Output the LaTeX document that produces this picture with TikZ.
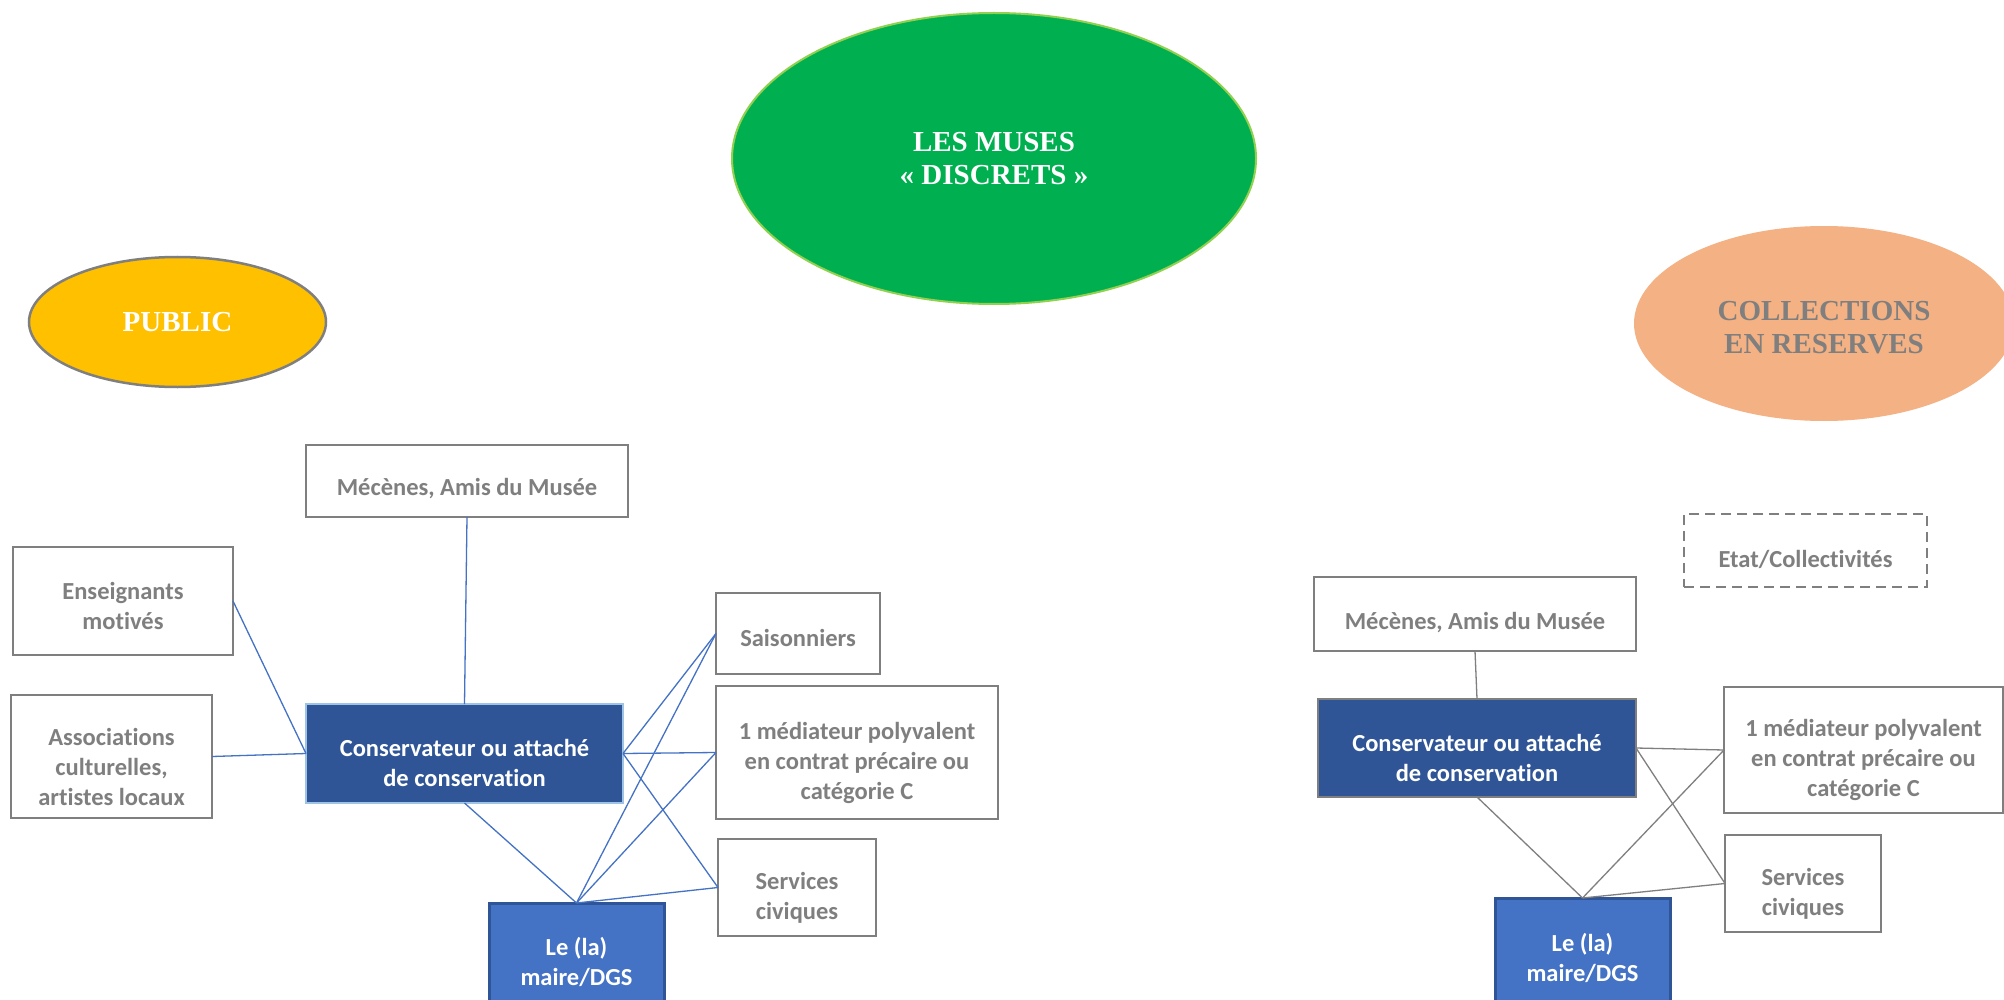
\documentclass[tikz,border=0pt]{standalone}
\usepackage{fontspec}
\usetikzlibrary{shapes.geometric}
\newfontfamily\carlitofont{Carlito}[Ligatures=NoCommon]
\newfontfamily\timesfont{Liberation Serif}

\definecolor{txtgray}{HTML}{7F7F7F}
\definecolor{darkblue}{HTML}{2F5597}
\definecolor{midblue}{HTML}{4472C4}
\definecolor{paleblue}{HTML}{9DC3E6}
\definecolor{musegreen}{HTML}{00B050}
\definecolor{limegreen}{HTML}{92D050}
\definecolor{gold}{HTML}{FFC000}
\definecolor{peach}{HTML}{F4B183}

\tikzset{
  every node/.style={inner sep=0pt, outer sep=0pt, align=center},
  labelbox/.style={rectangle, draw=txtgray, line width=2.5pt, fill=white},
  dashbox/.style={labelbox, dash pattern=on 10pt off 6pt},
  keybox/.style={rectangle, fill=darkblue, line width=2.5pt},
  mayorbox/.style={rectangle, fill=midblue, draw=darkblue, line width=3pt},
  graytext/.style={text=txtgray, font=\carlitofont\bfseries\fontsize{24.5}{30}\selectfont},
  whitetext/.style={text=white, font=\carlitofont\bfseries\fontsize{24.5}{30}\selectfont},
  bubble/.style={ellipse, font=\timesfont\bfseries\fontsize{29}{33}\selectfont},
  bluelink/.style={draw=midblue, line width=1.3pt},
  graylink/.style={draw=txtgray, line width=1.3pt},
}

\begin{document}
\begin{tikzpicture}[x=1pt, y=-1pt]
\useasboundingbox (0,0) rectangle (2004,1000);
\clip (0,0) rectangle (2004,1000);
\fill[white] (0,0) rectangle (2004,1000);

% headline bubbles
\node[bubble, fill=musegreen, draw=limegreen, line width=2pt, text=white,
  minimum width=524pt, minimum height=291pt] (muses) at (994,158.5)
  {LES MUSES\\« DISCRETS »};
\node[bubble, fill=gold, draw=txtgray, line width=2.5pt, text=white,
  minimum width=297pt, minimum height=130pt] (public) at (177.5,322) {PUBLIC};
\node[bubble, fill=peach, minimum width=380pt, minimum height=195pt]
  (collections) at (1824,323.5) {};
\node[bubble, text=txtgray] (collectionsT) at ([yshift=-4pt]collections.center)
  {COLLECTIONS\\EN RESERVES};

% public side: boxes
\node[labelbox, minimum width=322pt, minimum height=72pt] (mecL) at (467,481) {};
\node[labelbox, minimum width=220pt, minimum height=108pt] (ensL) at (123,601) {};
\node[labelbox, minimum width=201pt, minimum height=123pt] (assL) at (111.5,756.5) {};
\node[keybox, draw=paleblue, minimum width=317pt, minimum height=99pt] (conL) at (464.5,753.5) {};
\node[mayorbox, minimum width=175pt, minimum height=118pt] (maiL) at (576.5,962) {};
\node[labelbox, minimum width=164pt, minimum height=81pt] (saiL) at (798,633.5) {};
\node[labelbox, minimum width=282pt, minimum height=133pt] (medL) at (857,752.5) {};
\node[labelbox, minimum width=158pt, minimum height=97pt] (serL) at (797,887.5) {};

% public side: texts
\node[graytext] (mecLt) at ([yshift=-8pt]mecL.center) {Mécènes, Amis du Musée};
\node[graytext] (ensLt) at ([yshift=-5pt]ensL.center) {Enseignants\\motivés};
\node[graytext] (assLt) at ([yshift=-10pt]assL.center) {Associations\\culturelles,\\artistes locaux};
\node[whitetext] (conLt) at ([yshift=-9pt]conL.center) {Conservateur ou attaché\\de conservation};
\node[whitetext] (maiLt) at (maiL.center) {Le (la)\\maire/DGS};
\node[graytext] (saiLt) at ([yshift=-4pt]saiL.center) {Saisonniers};
\node[graytext] (medLt) at ([yshift=-10pt]medL.center) {1 médiateur polyvalent\\en contrat précaire ou\\catégorie C};
\node[graytext] (serLt) at ([yshift=-10pt]serL.center) {Services\\civiques};

% collections side: boxes
\node[dashbox, minimum width=243pt, minimum height=73pt] (etaR) at (1805.5,550.5) {};
\node[labelbox, minimum width=322pt, minimum height=74pt] (mecR) at (1475,614) {};
\node[keybox, draw=txtgray, minimum width=318pt, minimum height=98pt] (conR) at (1477,748) {};
\node[labelbox, minimum width=279pt, minimum height=126pt] (medR) at (1863.5,750) {};
\node[labelbox, minimum width=156pt, minimum height=97pt] (serR) at (1803,883.5) {};
\node[mayorbox, minimum width=175pt, minimum height=119pt] (maiR) at (1582.5,957.5) {};

% collections side: texts
\node[graytext] (etaRt) at ([yshift=-9pt]etaR.center) {Etat/Collectivités};
\node[graytext] (mecRt) at ([yshift=-9pt]mecR.center) {Mécènes, Amis du Musée};
\node[whitetext] (conRt) at ([yshift=-10pt]conR.center) {Conservateur ou attaché\\de conservation};
\node[graytext] (medRt) at ([yshift=-10pt]medR.center) {1 médiateur polyvalent\\en contrat précaire ou\\catégorie C};
\node[graytext] (serRt) at ([yshift=-10pt]serR.center) {Services\\civiques};
\node[whitetext] (maiRt) at (maiR.center) {Le (la)\\maire/DGS};

% links, public side
\draw[bluelink] (ensL.east) -- (conL.west);
\draw[bluelink] (assL.east) -- (conL.west);
\draw[bluelink] (mecL.south) -- (conL.north);
\draw[bluelink] (conL.south) -- (maiL.north);
\draw[bluelink] (conL.east) -- (saiL.west);
\draw[bluelink] (conL.east) -- (medL.west);
\draw[bluelink] (conL.east) -- (serL.west);
\draw[bluelink] (maiL.north) -- (saiL.west);
\draw[bluelink] (maiL.north) -- (medL.west);
\draw[bluelink] (maiL.north) -- (serL.west);

% links, collections side
\draw[graylink] (mecR.south) -- (conR.north);
\draw[graylink] (conR.east) -- (medR.west);
\draw[graylink] (conR.east) -- (serR.west);
\draw[graylink] (conR.south) -- (maiR.north);
\draw[graylink] (maiR.north) -- (medR.west);
\draw[graylink] (maiR.north) -- (serR.west);
\end{tikzpicture}
\end{document}
